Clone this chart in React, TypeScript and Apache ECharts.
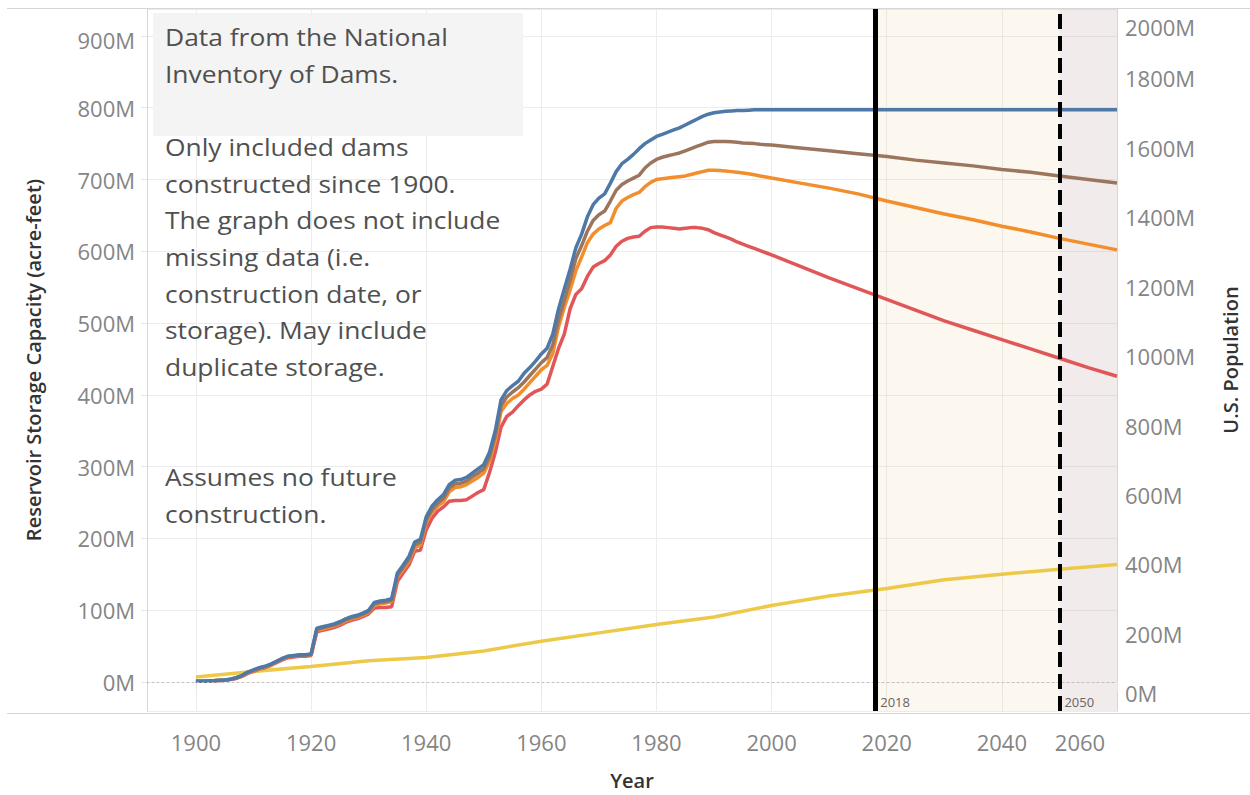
import React, { useEffect, useRef } from "react";
import * as echarts from "echarts";

// ---------- DATA ----------
const years = [
  1900, 1901, 1902, 1903, 1904, 1905, 1906, 1907, 1908, 1909,
  1910, 1911, 1912, 1913, 1914, 1915, 1916, 1917, 1918, 1919,
  1920, 1921, 1922, 1923, 1924, 1925, 1926, 1927, 1928, 1929,
  1930, 1931, 1932, 1933, 1934, 1935, 1936, 1937, 1938, 1939,
  1940, 1941, 1942, 1943, 1944, 1945, 1946, 1947, 1948, 1949,
  1950, 1951, 1952, 1953, 1954, 1955, 1956, 1957, 1958, 1959,
  1960, 1961, 1962, 1963, 1964, 1965, 1966, 1967, 1968, 1969,
  1970, 1971, 1972, 1973, 1974, 1975, 1976, 1977, 1978, 1979,
  1980, 1981, 1982, 1983, 1984, 1985, 1986, 1987, 1988, 1989,
  1990, 1991, 1992, 1993, 1994, 1995, 1996, 1997, 1998, 1999,
  2000,
  2005, 2010, 2015, 2020, 2025, 2030, 2035, 2040, 2045, 2050, 2055, 2060,
];

// Reservoir storage capacity, millions of acre-feet
const capacityBlue = [
  1, 1, 1.5, 2, 2.5, 3, 4, 6, 9, 14,
  17, 20, 22, 25, 29, 33, 36, 37, 38, 38,
  39, 75, 77, 79, 81, 84, 88, 91, 93, 96,
  100, 111, 113, 114, 116, 152, 163, 175, 195, 199,
  230, 245, 254, 261, 275, 281, 282, 285, 291, 297,
  303, 320, 350, 393, 406, 413, 419, 430, 438, 447,
  457, 465, 485, 520, 548, 575, 605, 624, 648, 665,
  674, 680, 695, 711, 722, 728, 735, 743, 750, 755,
  760, 763, 766, 769, 772, 776, 780, 784, 788, 791,
  793, 794, 795, 795.5, 796, 796, 796.5, 797, 797, 797,
  797,
  797, 797, 797, 797, 797, 797, 797, 797, 797, 797, 797, 797,
];

const capacityBrown = [
  1, 1, 1.5, 2, 2.5, 3, 4, 6, 9, 13.5,
  16.5, 19.5, 21.5, 24.5, 28.5, 32.5, 35.5, 36.5, 37.5, 37.5,
  38.5, 73.5, 75.5, 77.5, 79.5, 82.5, 86.5, 89.5, 91.5, 94.5,
  98.5, 109, 111, 112, 114, 149, 160, 171, 191, 195,
  226, 240, 249, 256, 270, 276, 277, 280, 286, 291,
  297, 314, 343, 385, 397, 404, 410, 418, 427, 436,
  445, 452, 470, 505, 532, 560, 590, 608, 628, 643,
  651, 656, 670, 685, 693, 698, 702, 706, 716, 723,
  728, 731, 733, 735, 737, 740, 743, 746, 749, 752,
  753, 753, 753, 752.5, 752, 751, 750.5, 750, 749, 748.5,
  748,
  744, 740, 736, 732, 727, 723, 719, 714, 710, 705, 700, 695,
];

const capacityOrange = [
  1, 1, 1.5, 2, 2.5, 3, 4, 5.5, 8.5, 13,
  16, 19, 21, 24, 28, 32, 35, 36, 37, 37,
  38, 72, 74, 76, 78, 81, 85, 88, 90, 93,
  97, 107, 109, 110, 112, 146, 157, 168, 187, 191,
  222, 236, 245, 251, 265, 271, 272, 275, 280, 285,
  291, 308, 336, 377, 388, 395, 400, 408, 417, 426,
  435, 441, 458, 495, 522, 546, 573, 592, 612, 624,
  631, 636, 640, 660, 670, 675, 679, 682, 690, 696,
  700, 701, 702, 703, 704, 705, 707, 709, 711, 713,
  713, 712.5, 712, 711, 710, 709, 708, 706.5, 705, 703.5,
  702,
  695, 688, 680, 670, 661, 652, 644, 635, 627, 618, 610, 602,
];

const capacityRed = [
  1, 1, 1, 1.5, 2, 2.5, 3.5, 5, 8, 12,
  15, 18, 20, 23, 27, 31, 34, 35, 36, 36,
  37, 70, 72, 74, 76, 79, 83, 86, 88, 91,
  95, 103, 104, 104, 105, 140, 152, 163, 182, 184,
  212, 228, 238, 244, 252, 253, 253, 254, 259, 264,
  268, 292, 320, 355, 370, 376, 385, 393, 400, 405,
  408, 415, 440, 465, 485, 520, 540, 548, 565, 578,
  583, 587, 595, 607, 614, 618, 620, 621, 628, 633,
  634, 634, 633, 632, 631, 632, 633, 633, 632, 630,
  626, 623, 620, 617, 613, 610, 607, 604, 601, 598,
  595,
  579, 563, 548, 533, 518, 503, 490, 477, 464, 451, 438, 426,
];

// U.S. population, millions
const popYears = [1900, 1910, 1920, 1930, 1940, 1950, 1960, 1970, 1980, 1990, 2000, 2010, 2020, 2030, 2040, 2050, 2060];
const popValues = [76, 92, 106, 123, 132, 151, 179, 203, 227, 249, 282, 309, 331, 356, 372, 386, 400];

const refYears = [2018, 2050];
const refLabels = ["2018", "2050"];

const noteLines = [
  "Data from the National",
  "Inventory of Dams.",
  "",
  "Only included dams",
  "constructed since 1900.",
  "The graph does not include",
  "missing data (i.e.",
  "construction date, or",
  "storage). May include",
  "duplicate storage.",
  "",
  "",
  "Assumes no future",
  "construction.",
];

// ---------- STYLE ----------
const FONT = '"Open Sans", "Noto Sans", sans-serif';
const LABEL_COLOR = "#858585";
const TITLE_COLOR = "#333333";

export default function App() {
  const ref = useRef<HTMLDivElement>(null);

  useEffect(() => {
    const el = ref.current;
    if (!el) return;
    const chart = echarts.init(el, null, { renderer: "svg" });

    const pairs = (vals: number[]) => years.map((y, i) => [y, vals[i]]);
    const line = (name: string, color: string, vals: number[]) => ({
      name,
      type: "line",
      yAxisIndex: 0,
      data: pairs(vals),
      showSymbol: false,
      symbol: "none",
      silent: true,
      z: 3,
      lineStyle: { color, width: 3.5 },
      itemStyle: { color },
    });

    const labelRich = (extra: any) => ({ fontSize: 22, color: LABEL_COLOR, fontFamily: FONT, ...extra });

    const option: any = {
      animation: false,
      textStyle: { fontFamily: FONT },
      grid: { left: 147, right: 133, top: 9, bottom: 82, containLabel: false },
      xAxis: {
        type: "value",
        min: 1891.5,
        max: 2060,
        minInterval: 20,
        maxInterval: 20,
        name: "Year",
        nameLocation: "middle",
        nameGap: 59,
        nameTextStyle: { fontSize: 20, fontWeight: 600, color: TITLE_COLOR, fontFamily: FONT },
        axisLine: { show: false },
        axisTick: { show: true, length: 9, lineStyle: { color: "#e6e6e6" } },
        axisLabel: {
          showMinLabel: false,
          margin: 20,
          fontSize: 22,
          color: LABEL_COLOR,
          fontFamily: FONT,
          formatter: (v: number) => (v === 2060 ? "{r|2060}" : String(v)),
          rich: { r: labelRich({ padding: [0, 74, 0, 0] }) },
        },
        splitLine: { show: true, lineStyle: { color: "#ececec", width: 1 } },
      },
      yAxis: [
        {
          type: "value",
          position: "left",
          min: -40.3,
          max: 937.5,
          minInterval: 100,
          maxInterval: 100,
          name: "Reservoir Storage Capacity (acre-feet)",
          nameLocation: "middle",
          nameGap: 104,
          nameTextStyle: { fontSize: 20, fontWeight: 600, color: TITLE_COLOR, fontFamily: FONT },
          axisLine: { show: true, lineStyle: { color: "#d6d6d6" } },
          axisTick: { show: true, length: 6, lineStyle: { color: "#e6e6e6" } },
          axisLabel: {
            showMinLabel: false,
            showMaxLabel: false,
            margin: 12,
            fontSize: 22,
            color: LABEL_COLOR,
            fontFamily: FONT,
            formatter: (v: number) => (v === 900 ? "{t|900M}" : `${v}M`),
            rich: { t: labelRich({ padding: [8, 0, 0, 0] }) },
          },
          splitLine: { show: true, lineStyle: { color: "#ececec", width: 1 } },
        },
        {
          type: "value",
          position: "right",
          min: -22,
          max: 2000,
          minInterval: 200,
          maxInterval: 200,
          name: "U.S. Population",
          nameLocation: "middle",
          nameGap: 103,
          nameTextStyle: { fontSize: 20, fontWeight: 600, color: TITLE_COLOR, fontFamily: FONT },
          axisLine: { show: true, lineStyle: { color: "#d6d6d6" } },
          axisTick: { show: false },
          axisLabel: {
            showMinLabel: false,
            margin: 8,
            fontSize: 22,
            color: LABEL_COLOR,
            fontFamily: FONT,
            formatter: (v: number) => (v === 0 ? "{lo|0M}" : v === 2000 ? "{hi|2000M}" : `${v}M`),
            rich: {
              lo: labelRich({ padding: [0, 0, 20, 0] }),
              hi: labelRich({ padding: [36, 0, 0, 0] }),
            },
          },
          splitLine: { show: false },
        },
      ],
      series: [
        {
          name: "zones",
          type: "line",
          yAxisIndex: 0,
          data: [],
          silent: true,
          z: 1,
          markArea: {
            silent: true,
            data: [
              [{ xAxis: refYears[0], itemStyle: { color: "rgba(235,200,150,0.15)" } }, { xAxis: refYears[1] }],
              [{ xAxis: refYears[1], itemStyle: { color: "rgba(200,170,170,0.24)" } }, { xAxis: 2060 }],
            ],
          },
          markLine: {
            silent: true,
            symbol: ["none", "none"],
            label: { show: false },
            data: [{ yAxis: 0, lineStyle: { color: "#bdbdbd", width: 1, type: [2, 3] } }],
          },
        },
        {
          name: "U.S. Population",
          type: "line",
          yAxisIndex: 1,
          data: popYears.map((y, i) => [y, popValues[i]]),
          showSymbol: false,
          symbol: "none",
          silent: true,
          z: 3,
          lineStyle: { color: "#edc948", width: 3.5 },
          itemStyle: { color: "#edc948" },
        },
        line("High storage loss", "#e15759", capacityRed),
        line("Medium storage loss", "#f28e2b", capacityOrange),
        line("Low storage loss", "#9c755f", capacityBrown),
        line("No storage loss", "#4e79a7", capacityBlue),
        {
          name: "reference lines",
          type: "line",
          yAxisIndex: 0,
          data: [],
          silent: true,
          z: 5,
          markLine: {
            silent: true,
            symbol: ["none", "none"],
            label: { show: false },
            data: [
              { xAxis: refYears[0], lineStyle: { color: "#000000", width: 5, type: "solid" } },
              { xAxis: refYears[1], lineStyle: { color: "#000000", width: 4, type: [15, 7] } },
            ],
          },
        },
      ],
    };

    chart.setOption(option);

    const refPx = refYears.map((y) => chart.convertToPixel({ xAxisIndex: 0 }, y) as number);

    chart.setOption({
      graphic: [
        {
          type: "line",
          silent: true,
          z: 0,
          shape: { x1: 7, y1: 8.5, x2: 1250, y2: 8.5 },
          style: { stroke: "#d6d6d6", lineWidth: 1 },
        },
        {
          type: "line",
          silent: true,
          z: 0,
          shape: { x1: 7, y1: 713.5, x2: 1250, y2: 713.5 },
          style: { stroke: "#d6d6d6", lineWidth: 1 },
        },
        {
          type: "rect",
          silent: true,
          z: 1,
          shape: { x: 153, y: 13, width: 370, height: 123 },
          style: { fill: "#f4f4f4" },
        },
        {
          type: "text",
          silent: true,
          z: 10,
          x: 165,
          y: 18,
          scaleX: 1.1,
          style: {
            text: noteLines.join("\n"),
            font: `24px ${FONT}`,
            fill: "#505050",
            lineHeight: 36.67,
            textVerticalAlign: "top",
          },
        },
        ...refLabels.map((t, i) => ({
          type: "text",
          silent: true,
          z: 10,
          x: refPx[i] + 5,
          y: 702,
          style: {
            text: t,
            font: `13px ${FONT}`,
            fill: "#666666",
            textVerticalAlign: "middle",
          },
        })),
      ],
    });

    return () => chart.dispose();
  }, []);

  return (
    <div
      ref={ref}
      style={{ position: "absolute", left: 0, top: 0, width: 1250, height: 795 }}
    />
  );
}
